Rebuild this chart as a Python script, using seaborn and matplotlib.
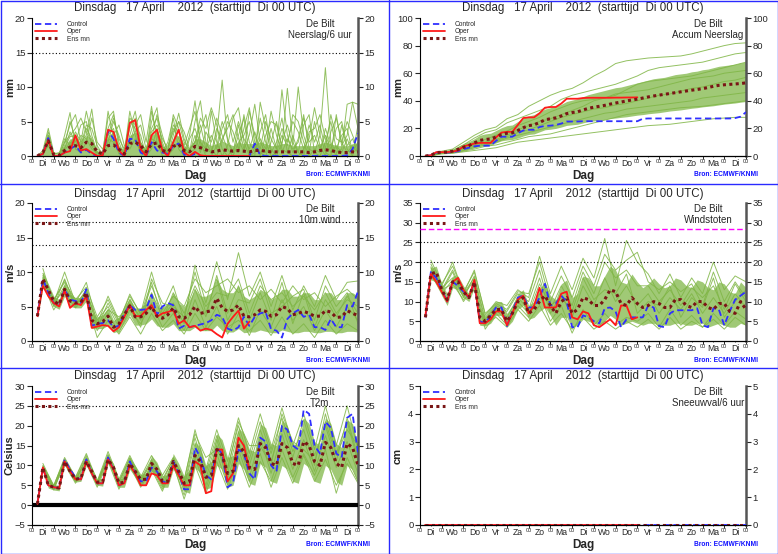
import matplotlib
matplotlib.use("Agg")
import matplotlib.pyplot as plt
from matplotlib.lines import Line2D
import seaborn as sns

# ---- time axes (hours after Di 17 April 00 UTC) ----
hours = list(range(6, 361, 6))          # ensemble / control, 6-hourly
oper_hours = list(range(6, 241, 6))     # operational run stops at day 10
member_hours = list(range(12, 361, 12)) # a selection of members, 12-hourly

day_names = ["Di", "Wo", "Do", "Vr", "Za", "Zo", "Ma", "Di", "Wo", "Do", "Vr", "Za", "Zo", "Ma", "Di"]
title = "Dinsdag   17 April    2012  (starttijd  Di 00 UTC)"

# ---- Neerslag/6 uur (mm) ----
precip_ctrl = [0, 0.3, 2.6, 0, 0, 0.5, 1.0, 1.5, 0.5, 0.9, 0.3, 0, 0.1, 3.6, 2.5, 0.5,
               0, 2.5, 2.4, 0.5, 0, 2.0, 0.8, 0.5, 0.3, 1.5, 1.8, 0.2, 0, 0.3, 0, 0,
               0, 0, 0, 0, 0, 0, 0, 0, 1.8, 0.1, 0, 0, 0, 0, 0, 0,
               0, 0, 0, 0, 0, 0, 0, 0, 0, 0.1, 1.0, 3.3]
precip_oper = [0, 0.3, 2.3, 0, 0, 0.5, 0.7, 3.0, 0.8, 1.0, 0.5, 0, 0.1, 3.8, 3.5, 0.8,
               0, 4.8, 5.2, 1.0, 0, 3.0, 3.8, 0.8, 0, 2.0, 3.8, 0.5, 0, 0.6, 0.1, 0,
               0, 0, 0, 0, 0, 0, 0, 0]
precip_mean = [0, 0.5, 2.2, 0.2, 0.1, 0.8, 1.3, 1.5, 1.2, 2.0, 1.8, 0.6, 0.3, 1.5, 1.6, 1.0,
               0.3, 1.8, 2.0, 1.5, 0.6, 1.7, 1.9, 0.8, 0.6, 1.4, 1.7, 0.8, 0.6, 1.4, 1.2, 0.9,
               0.6, 0.7, 0.9, 0.8, 0.7, 0.8, 0.7, 0.6, 0.8, 0.8, 0.7, 0.6, 0.6, 0.6, 0.6, 0.6,
               0.6, 0.6, 0.5, 0.6, 0.8, 0.9, 0.8, 0.6, 0.5, 0.5, 0.6, 0.6]
precip_hi = [0, 0.5, 3.0, 0.2, 0.2, 1.5, 2.5, 2.5, 2.0, 3.0, 2.5, 0.8, 0.5, 3.0, 3.5, 1.5,
             0.8, 3.0, 3.5, 2.0, 1.0, 3.0, 3.5, 1.5, 1.0, 2.5, 3.0, 1.5, 1.0, 2.5, 2.5, 2.0,
             1.5, 1.8, 2.2, 1.8, 1.5, 2.0, 1.8, 1.8, 1.8, 2.0, 1.8, 1.5, 1.5, 1.8, 1.8, 1.5,
             1.5, 1.5, 1.5, 1.5, 1.8, 2.0, 1.8, 1.5, 1.5, 1.5, 1.8, 1.8]
precip_members = [
    [0, 0.5, 3.5, 0.2, 0, 2.0, 4.5, 6.0, 2.0, 6.5, 3.0, 0.5, 0.5, 5.5, 6.5, 1.0,
     0.5, 4.0, 6.5, 2.0, 0.5, 5.0, 7.0, 1.0, 0.5, 6.0, 4.0, 1.0, 0.5, 5.0, 8.0, 2.0,
     0.5, 3.0, 11.0, 2.0, 0.5, 4.5, 1.0, 3.0, 7.5, 2.0, 0.5, 4.0, 1.0, 9.6, 3.0, 0.5,
     2.5, 6.0, 1.0, 0.5, 3.0, 12.8, 2.0, 0.5, 1.0, 7.5, 7.8, 4.0],
    [0, 0.3, 2.5, 0, 0, 1.0, 3.5, 2.0, 4.5, 5.0, 1.5, 0, 0.3, 4.0, 6.0, 2.0,
     0, 3.0, 5.5, 1.5, 0, 6.5, 3.0, 0.5, 2.0, 5.5, 1.0, 0, 2.5, 4.0, 1.5, 0.5,
     6.5, 2.0, 0, 1.5, 5.5, 7.0, 2.0, 0, 0.5, 3.5, 6.0, 1.0, 0, 2.0, 4.5, 1.5,
     10.0, 3.0, 0.5, 5.0, 1.5, 0, 3.5, 5.5, 2.0, 0.5, 1.5, 0.5],
    [0, 0.8, 4.0, 0.5, 0.2, 2.5, 1.5, 3.5, 2.0, 3.0, 6.8, 1.0, 0.5, 2.0, 5.0, 3.0,
     0.5, 6.5, 3.0, 0.5, 1.0, 4.0, 5.5, 2.0, 0, 3.0, 6.2, 2.5, 0.5, 1.0, 3.5, 6.0,
     1.0, 0, 2.5, 4.0, 6.0, 2.5, 0.5, 6.5, 3.0, 0.5, 0, 2.0, 5.0, 1.0, 0.5, 3.0,
     0.5, 4.5, 6.0, 0.5, 0, 2.0, 5.0, 1.0, 3.0, 4.0, 0.5, 2.0],
    [0, 0.2, 2.0, 0, 0, 1.5, 5.0, 2.5, 1.0, 4.0, 2.5, 0.3, 0.2, 6.5, 2.5, 0.3,
     0.2, 5.5, 4.5, 3.0, 0, 2.5, 6.0, 3.0, 0.5, 4.0, 2.5, 0.5, 3.0, 8.0, 2.0, 0,
     0, 1.5, 5.0, 2.5, 0.5, 3.0, 5.5, 0, 0, 7.8, 4.0, 0.5, 2.0, 5.5, 0.5, 0,
     0, 1.0, 2.5, 7.0, 3.0, 0.5, 0, 6.0, 1.5, 3.0, 7.8, 7.5],
    [0, 0.5, 3.0, 0.3, 0.3, 3.0, 6.3, 1.0, 0.5, 2.0, 5.5, 2.0, 1.0, 3.0, 4.0, 0.5,
     0, 2.0, 4.5, 6.0, 2.0, 7.2, 2.0, 0, 0, 2.0, 5.0, 3.5, 1.0, 2.0, 5.5, 4.0,
     7.0, 4.5, 1.0, 0, 1.0, 0.5, 4.0, 7.0, 2.0, 0, 3.0, 5.0, 4.5, 1.5, 9.8, 2.0,
     0.5, 0, 3.5, 4.0, 6.0, 2.5, 0.5, 1.5, 0.5, 2.5, 0.5, 1.0],
    [0, 0.3, 1.5, 0, 0, 0.8, 2.0, 1.5, 3.0, 2.5, 1.0, 0.5, 0, 1.5, 3.0, 4.5,
     1.5, 1.0, 2.5, 0.5, 0, 1.0, 4.0, 1.5, 0, 1.0, 2.0, 0.5, 0.5, 3.0, 0.5, 3.5,
     2.0, 5.5, 3.0, 1.0, 0, 2.0, 3.0, 5.0, 1.0, 5.5, 2.0, 0, 0.5, 3.0, 1.5, 6.0,
     5.0, 2.0, 0, 1.0, 0.5, 4.0, 1.5, 0, 4.5, 1.0, 0, 4.5],
    [0, 0.4, 3.0, 0.1, 0.1, 2.0, 3.0, 4.0, 5.5, 3.5, 2.0, 0.5, 0.5, 3.0, 5.5, 2.5,
     1.0, 5.0, 4.0, 0.5, 0.5, 3.5, 4.5, 2.5, 1.0, 4.5, 3.5, 1.5, 4.0, 6.5, 2.0, 1.0,
     3.0, 1.0, 4.0, 6.0, 2.0, 5.0, 2.5, 1.0, 3.5, 1.0, 5.0, 2.5, 1.0, 4.0, 2.0, 5.0,
     3.5, 1.0, 4.5, 2.0, 4.5, 1.0, 6.0, 2.5, 2.0, 5.0, 3.0, 1.0],
    [0, 0.2, 1.8, 0.3, 0.5, 1.2, 2.8, 3.0, 1.5, 4.5, 4.0, 1.5, 0.2, 2.5, 2.0, 1.0,
     0.5, 2.0, 3.5, 4.5, 1.0, 2.5, 2.0, 0.5, 1.5, 3.5, 5.0, 2.0, 1.0, 2.0, 4.5, 1.0,
     0.5, 4.0, 2.0, 5.0, 3.5, 1.0, 6.0, 2.0, 0.5, 2.5, 1.0, 6.5, 3.0, 0.5, 2.5, 1.0,
     2.0, 5.5, 2.0, 3.0, 1.0, 3.0, 1.0, 4.0, 5.0, 1.5, 2.5, 0.5],
]

# ---- Accum Neerslag (mm) ----
accum_ctrl = [0, 0.5, 2.5, 2.5, 2.5, 2.8, 3.5, 5.0, 6.0, 7.0, 7.5, 7.5, 7.5, 11.0, 14.0, 14.0,
              14.0, 16.5, 18.5, 19.0, 19.0, 21.0, 21.8, 22.0, 22.5, 23.5, 25.0, 25.0, 25.0, 25.2, 25.2, 25.2,
              25.2, 25.2, 25.2, 25.2, 25.2, 25.2, 25.2, 25.2, 27.0, 27.2, 27.2, 27.2, 27.2, 27.2, 27.2, 27.2,
              27.2, 27.2, 27.2, 27.2, 27.2, 27.2, 27.2, 27.2, 27.2, 27.5, 28.5, 31.8]
accum_oper = [0, 0.5, 2.8, 2.8, 2.8, 3.3, 4.0, 7.0, 8.0, 9.0, 9.5, 9.5, 9.5, 13.5, 17.0, 17.5,
              17.5, 22.5, 27.5, 28.0, 28.0, 31.0, 35.0, 35.5, 35.5, 38.0, 41.5, 41.5, 41.5, 42.0, 42.2, 42.2,
              42.2, 42.2, 42.2, 42.3, 42.3, 42.4, 42.4, 42.5]
accum_mean = [0, 0.5, 2.5, 2.7, 2.8, 3.5, 4.8, 6.3, 7.5, 9.5, 11.3, 12.0, 12.3, 13.8, 15.5, 16.5,
              16.8, 18.5, 20.5, 22.0, 22.6, 24.3, 26.2, 27.0, 27.6, 29.0, 30.7, 31.5, 32.0, 33.4, 34.5, 35.4,
              36.0, 36.7, 37.6, 38.4, 39.1, 39.9, 40.6, 41.2, 42.0, 42.8, 43.5, 44.1, 44.7, 45.3, 45.9, 46.5,
              47.1, 47.7, 48.2, 48.8, 49.6, 50.5, 51.2, 51.6, 51.9, 52.2, 52.5, 53.0]
accum_lo = [0, 0.3, 1.5, 1.8, 1.8, 2.2, 3.0, 4.0, 5.0, 6.0, 7.0, 7.4, 7.8, 9.5, 11.0, 11.6,
            12.0, 13.0, 14.5, 15.6, 16.0, 17.5, 19.0, 19.4, 20.0, 21.0, 22.2, 22.6, 23.0, 24.0, 25.0, 25.4,
            26.0, 26.5, 27.2, 27.5, 28.0, 28.4, 29.0, 29.6, 30.0, 30.6, 31.0, 31.4, 32.0, 32.6, 33.0, 33.4,
            34.0, 34.6, 35.0, 35.6, 36.0, 36.4, 37.0, 37.6, 38.0, 38.4, 39.0, 39.5]
accum_hi = [0, 0.8, 3.5, 3.8, 4.0, 5.0, 7.0, 9.0, 10.5, 12.5, 15.0, 16.0, 16.5, 18.5, 20.5, 22.0,
            22.5, 25.0, 27.5, 29.0, 30.0, 32.0, 34.0, 35.0, 36.0, 37.5, 39.5, 40.5, 41.5, 43.0, 44.5, 45.5,
            46.5, 47.5, 48.5, 49.5, 50.0, 51.0, 52.0, 53.0, 54.0, 55.0, 56.0, 56.5, 57.0, 58.0, 59.0, 59.5,
            60.0, 61.0, 61.5, 62.5, 63.0, 64.0, 65.0, 65.5, 66.0, 66.5, 67.5, 68.0]
accum_members = [
    [0.5, 3.5, 5, 10, 15, 19, 21, 27, 30, 36, 40, 44, 47, 49, 53, 58, 62, 67, 69, 70,
     71, 71.5, 72, 72.5, 74, 76, 78, 80, 81.5, 82],
    [0.5, 3, 4, 8, 13, 17, 19, 24, 27, 30, 33, 36, 41, 44, 46, 48, 50, 52, 55, 58,
     62, 64, 65, 66, 67, 68, 70, 72, 74, 75],
    [0.5, 2.5, 3.5, 7, 10, 12, 15, 18, 22, 25, 28, 32, 35, 38, 40, 41, 42, 44, 48, 52,
     54, 55, 56, 57, 58, 60, 62, 64, 66, 68],
    [0.3, 2, 3, 6, 8, 10, 12, 15, 19, 22, 25, 27, 30, 33, 36, 40, 42, 45, 46, 47,
     48, 50, 52, 54, 56, 57, 58, 60, 61, 62],
    [0.5, 2.5, 3, 5, 7, 9, 11, 14, 17, 19, 22, 25, 28, 30, 32, 34, 35, 37, 38, 40,
     42, 44, 45, 47, 49, 50, 52, 54, 55, 57],
    [0.3, 2, 2.5, 4, 6, 8, 10, 13, 15, 17, 19, 21, 23, 25, 27, 29, 31, 32, 34, 35,
     36, 37, 38, 39, 40, 42, 43, 44, 45, 46],
    [0.2, 2, 2.5, 3.5, 5, 7, 8, 10, 12, 14, 15, 16, 18, 20, 22, 24, 26, 28, 30, 31,
     32, 33, 34, 35, 35.5, 36, 37, 38, 39, 40],
    [0.2, 1.5, 2, 3, 4, 5, 6, 8, 10, 11, 12, 13, 14, 15, 16, 17, 18, 19, 20, 21,
     22, 22.5, 23, 24, 25, 26, 27, 27.5, 28, 28],
]

# ---- 10m wind (m/s) ----
wind_ctrl = [3.6, 9.0, 7.0, 5.5, 5.2, 7.5, 6.0, 5.8, 5.5, 7.5, 2.2, 2.5, 2.6, 3.0, 2.0, 2.2,
             4.0, 5.2, 4.5, 4.5, 4.6, 6.7, 3.8, 5.0, 5.5, 5.2, 1.8, 2.2, 2.0, 2.2, 2.4, 2.6,
             3.0, 3.8, 3.5, 1.8, 1.5, 2.0, 3.5, 2.2, 3.5, 4.0, 4.2, 1.7, 1.5, 0.5, 3.2, 4.0,
             4.5, 3.5, 3.8, 2.0, 2.0, 1.6, 3.2, 2.0, 2.0, 5.2, 5.0, 7.2]
wind_oper = [3.6, 8.0, 6.5, 5.5, 5.0, 7.3, 4.8, 5.5, 5.2, 6.5, 1.9, 2.1, 2.3, 2.2, 1.4, 2.0,
             3.5, 5.2, 3.6, 3.6, 4.5, 5.2, 3.5, 4.0, 4.2, 4.5, 2.5, 3.0, 2.0, 2.2, 1.5, 1.8,
             1.6, 1.0, 0.5, 2.5, 3.5, 4.4, 1.8, 2.8]
wind_mean = [3.6, 9.0, 7.4, 5.8, 5.3, 7.5, 5.8, 5.5, 5.6, 7.0, 3.0, 2.5, 2.8, 3.6, 2.0, 2.5,
             3.8, 5.1, 3.5, 3.5, 4.0, 5.0, 3.6, 3.3, 3.8, 4.8, 3.5, 3.3, 3.8, 5.0, 4.0, 4.2,
             4.4, 6.2, 4.8, 4.3, 4.5, 5.2, 3.6, 3.5, 3.8, 4.5, 4.3, 3.6, 3.8, 5.0, 4.7, 3.8,
             4.0, 4.3, 4.0, 3.6, 3.6, 4.4, 4.2, 3.4, 3.5, 4.4, 4.0, 3.7]
wind_lo = [3.3, 7.8, 6.3, 5.0, 4.6, 6.5, 5.0, 4.8, 4.8, 5.8, 1.8, 1.8, 1.8, 2.3, 1.2, 1.5,
           2.6, 3.8, 2.3, 2.3, 2.5, 3.2, 2.2, 2.0, 2.0, 2.5, 1.5, 1.5, 1.5, 2.0, 1.5, 1.5,
           1.5, 2.3, 1.5, 1.3, 1.3, 1.8, 1.2, 1.3, 1.3, 1.6, 1.4, 1.2, 1.2, 1.6, 1.4, 1.2,
           1.2, 1.4, 1.4, 1.2, 1.2, 1.4, 1.4, 1.2, 1.2, 1.4, 1.4, 1.3]
wind_hi = [4.0, 10.0, 8.3, 6.5, 6.0, 8.5, 6.8, 6.3, 6.3, 7.8, 4.0, 3.5, 3.8, 4.8, 3.0, 3.5,
           5.0, 6.2, 4.8, 4.8, 5.5, 7.0, 5.0, 4.8, 5.5, 7.0, 5.5, 5.0, 6.0, 7.5, 6.5, 6.5,
           7.0, 9.0, 7.5, 7.0, 7.0, 8.0, 6.5, 6.0, 6.5, 7.5, 7.0, 6.0, 6.5, 7.5, 7.5, 6.5,
           6.5, 7.0, 7.0, 6.0, 6.0, 7.0, 7.0, 6.0, 6.0, 7.0, 7.0, 6.5]
wind_members = [
    [10.5, 5.5, 10.0, 5.5, 8.5, 2.5, 6.5, 3.0, 6.5, 4.0, 10.0, 4.5, 8.0, 3.0, 11.0,
     5.5, 11.5, 6.0, 12.8, 6.5, 10.0, 5.0, 9.5, 4.5, 8.0, 5.0, 9.5, 6.0, 8.5, 8.7],
    [9.5, 5.0, 9.0, 5.0, 7.5, 2.0, 5.5, 2.5, 5.5, 3.5, 8.0, 4.0, 6.5, 5.0, 9.0,
     7.0, 8.0, 9.0, 7.0, 8.0, 6.0, 7.5, 5.5, 8.0, 6.0, 7.0, 5.0, 6.5, 7.5, 6.0],
    [8.5, 4.5, 7.0, 4.8, 6.5, 1.5, 4.0, 1.2, 4.5, 2.5, 5.5, 2.0, 4.0, 1.5, 6.0,
     2.0, 5.0, 1.0, 4.0, 0.8, 4.5, 2.0, 6.0, 3.0, 5.0, 1.5, 4.5, 2.0, 5.0, 3.0],
    [9.0, 5.2, 8.0, 5.2, 7.0, 3.0, 5.0, 2.0, 6.0, 3.0, 7.0, 3.5, 5.5, 2.5, 7.5,
     3.5, 9.5, 4.0, 8.0, 3.0, 7.0, 3.0, 8.5, 2.5, 7.0, 2.0, 6.0, 3.5, 6.5, 4.0],
    [8.0, 5.5, 7.5, 5.6, 6.0, 0.5, 3.0, 1.0, 3.5, 1.0, 4.0, 1.5, 3.0, 1.0, 4.0,
     1.5, 3.5, 2.0, 3.0, 1.5, 3.0, 0.8, 3.5, 1.0, 2.5, 0.5, 3.0, 1.0, 2.5, 1.5],
    [9.8, 6.0, 8.5, 6.0, 7.8, 3.5, 6.0, 2.8, 6.8, 3.8, 8.5, 3.0, 7.0, 4.0, 8.0,
     5.0, 7.0, 6.5, 9.0, 4.0, 8.0, 6.0, 7.0, 5.0, 6.5, 4.5, 7.0, 4.0, 6.0, 5.0],
    [9.2, 5.8, 8.8, 5.4, 7.2, 2.2, 4.5, 3.5, 5.0, 2.0, 9.0, 5.5, 5.0, 3.5, 10.0,
     4.0, 9.0, 3.0, 6.0, 5.5, 9.0, 4.0, 5.0, 6.5, 7.5, 3.0, 8.0, 5.0, 7.0, 2.5],
]

# ---- Windstoten (m/s) ----
gust_ctrl = [6.0, 17.5, 16.0, 13.0, 10.0, 15.0, 14.0, 12.5, 11.0, 15.0, 5.0, 4.5, 6.5, 8.5, 8.5, 3.8,
             7.5, 11.0, 11.5, 8.5, 8.5, 11.0, 14.5, 9.0, 9.5, 11.5, 10.0, 3.5, 3.5, 6.5, 6.0, 5.0,
             4.5, 8.3, 8.5, 7.5, 3.5, 5.5, 6.0, 6.0, 6.0, 9.0, 8.5, 3.8, 3.5, 7.0, 7.8, 7.8,
             7.8, 7.8, 8.3, 4.0, 3.5, 8.3, 8.0, 4.0, 7.5, 10.5, 11.5, 12.5]
gust_oper = [6.5, 17.0, 15.0, 12.5, 10.0, 15.0, 16.0, 13.0, 11.0, 15.5, 4.5, 4.5, 5.5, 7.5, 7.5, 4.0,
             7.0, 10.5, 11.5, 7.0, 9.0, 13.5, 8.5, 8.5, 8.5, 12.0, 12.5, 6.0, 5.5, 7.5, 7.0, 4.0,
             3.5, 4.5, 5.5, 4.0, 9.0, 9.0, 5.5, 6.0]
gust_mean = [6.0, 17.0, 17.5, 13.0, 10.5, 15.0, 15.0, 12.5, 11.0, 15.0, 6.0, 5.0, 6.5, 8.0, 8.0, 5.0,
             7.0, 10.0, 11.0, 7.0, 8.0, 10.0, 11.5, 9.0, 7.0, 10.0, 11.0, 7.0, 8.0, 11.0, 10.5, 9.0,
             9.0, 10.5, 13.0, 12.5, 9.5, 9.0, 11.0, 9.5, 8.5, 9.0, 10.0, 9.5, 8.5, 8.5, 10.5, 10.5,
             9.0, 8.5, 10.0, 10.0, 8.5, 8.0, 9.5, 9.5, 7.5, 7.0, 10.0, 8.0]
gust_lo = [5.5, 15.5, 15.0, 11.5, 9.0, 13.5, 13.0, 11.0, 10.0, 13.5, 4.0, 3.8, 4.5, 6.5, 6.5, 3.5,
           5.0, 8.0, 9.0, 5.5, 6.0, 7.5, 8.5, 6.5, 4.0, 6.0, 6.0, 3.5, 4.0, 5.5, 5.0, 4.5,
           4.0, 5.0, 6.5, 5.5, 4.0, 4.5, 5.0, 4.5, 4.0, 4.5, 4.5, 4.0, 4.0, 4.0, 4.5, 4.5,
           4.0, 4.0, 4.5, 4.5, 3.5, 4.0, 4.5, 4.0, 3.5, 3.5, 4.5, 4.0]
gust_hi = [6.5, 18.5, 19.0, 14.5, 12.0, 16.5, 16.5, 14.0, 12.0, 16.5, 8.0, 6.5, 8.5, 10.0, 10.0, 7.0,
           9.0, 12.0, 13.0, 9.0, 10.0, 13.0, 15.0, 11.5, 10.5, 14.5, 15.5, 11.0, 12.0, 16.5, 16.0, 14.0,
           14.0, 16.5, 19.0, 18.0, 15.0, 14.5, 17.0, 15.0, 13.5, 14.5, 16.0, 14.5, 13.5, 14.0, 16.0, 15.5,
           14.0, 13.5, 15.5, 15.0, 13.5, 13.0, 15.0, 14.5, 12.5, 12.0, 15.0, 13.5]
gust_members = [
    [19.5, 14.0, 20.0, 12.0, 18.0, 6.5, 10.0, 9.0, 13.0, 11.0, 21.5, 12.0, 19.0, 13.0, 21.0,
     16.0, 26.0, 14.0, 25.5, 20.0, 17.0, 12.0, 17.0, 11.0, 16.0, 12.0, 20.0, 13.0, 16.5, 15.0],
    [18.0, 12.5, 17.5, 11.0, 16.5, 5.5, 9.0, 7.5, 12.0, 10.0, 18.0, 8.0, 14.0, 9.0, 17.5,
     12.0, 20.0, 16.0, 18.0, 14.0, 14.0, 10.0, 13.0, 9.0, 13.5, 11.0, 14.0, 8.0, 14.5, 10.0],
    [17.0, 12.0, 15.5, 10.0, 14.0, 3.0, 7.0, 4.0, 9.0, 6.0, 12.0, 5.0, 9.0, 2.0, 8.0,
     4.0, 7.0, 4.0, 6.0, 5.0, 7.0, 3.5, 8.0, 4.0, 6.5, 3.5, 7.0, 4.0, 7.5, 5.5],
    [18.5, 13.5, 16.0, 11.5, 15.5, 4.0, 8.5, 6.0, 11.0, 8.0, 16.0, 7.0, 12.0, 6.0, 14.0,
     9.0, 16.0, 10.0, 14.0, 9.0, 12.0, 7.0, 11.0, 8.0, 12.0, 7.0, 11.0, 7.0, 12.0, 8.5],
    [16.5, 13.0, 14.5, 10.5, 13.0, 4.5, 6.0, 3.5, 8.0, 5.0, 9.0, 4.0, 7.0, 3.0, 6.0,
     3.0, 5.0, 3.0, 5.0, 3.5, 5.5, 3.0, 6.0, 3.0, 5.0, 3.5, 5.5, 3.0, 6.0, 4.0],
    [20.5, 14.5, 19.0, 12.5, 17.5, 7.0, 9.5, 8.0, 12.5, 12.0, 20.0, 10.0, 16.5, 11.0, 19.0,
     14.0, 22.0, 18.0, 20.5, 22.5, 15.0, 13.0, 15.0, 12.5, 14.5, 9.0, 17.5, 10.0, 15.0, 11.0],
    [18.8, 13.0, 18.0, 12.0, 16.0, 5.0, 8.0, 5.0, 10.0, 7.0, 14.5, 9.0, 11.0, 7.5, 16.0,
     10.5, 13.0, 12.0, 17.0, 7.0, 10.0, 9.0, 14.0, 6.0, 11.0, 8.5, 16.0, 6.0, 10.0, 13.0],
]

# ---- T2m (Celsius) ----
t2m_ctrl = [0.3, 9.5, 5.0, 4.5, 4.3, 11.5, 9.0, 7.0, 6.5, 11.5, 8.0, 5.5, 5.5, 12.0, 9.0, 5.0,
            5.5, 11.0, 8.0, 6.0, 6.0, 9.5, 8.5, 6.0, 5.5, 11.0, 8.0, 4.0, 4.0, 14.5, 12.0, 7.5,
            6.5, 14.5, 13.0, 4.5, 5.5, 14.0, 13.0, 8.0, 6.5, 17.0, 16.0, 10.0, 8.5, 20.0, 19.0, 15.0,
            14.0, 24.0, 23.0, 15.0, 13.0, 21.0, 19.5, 13.0, 12.0, 22.0, 23.0, 13.0]
t2m_oper = [0.3, 9.5, 5.0, 4.5, 4.3, 11.0, 8.5, 6.5, 6.5, 11.0, 8.0, 5.5, 5.5, 11.5, 9.0, 5.0,
            5.5, 10.0, 8.0, 5.0, 5.0, 8.0, 7.5, 5.5, 5.5, 10.0, 7.5, 5.0, 5.0, 11.0, 10.0, 3.0,
            3.5, 14.0, 14.0, 6.0, 8.0, 17.0, 15.0, 9.0]
t2m_mean = [0.3, 9.5, 5.0, 4.5, 4.3, 11.0, 8.5, 6.5, 6.8, 11.0, 8.5, 5.8, 5.8, 11.5, 9.5, 5.5,
            5.8, 10.5, 8.5, 6.5, 6.5, 10.5, 9.0, 6.0, 6.0, 11.0, 8.5, 5.5, 6.0, 12.5, 11.0, 7.0,
            7.5, 14.0, 12.5, 8.0, 8.5, 15.0, 13.5, 9.5, 9.0, 15.5, 14.5, 10.5, 10.0, 15.5, 14.5, 10.5,
            10.0, 16.0, 15.0, 11.0, 10.0, 15.8, 14.5, 10.5, 9.5, 15.5, 14.5, 10.0]
t2m_lo = [0.0, 8.8, 4.3, 3.8, 3.6, 10.2, 7.5, 5.8, 6.0, 10.0, 7.5, 5.0, 4.8, 10.5, 8.3, 4.5,
          4.5, 9.0, 7.0, 5.0, 5.0, 8.5, 7.3, 4.5, 4.5, 9.0, 6.8, 3.5, 3.0, 9.5, 8.0, 4.0,
          4.5, 10.0, 9.0, 4.5, 5.0, 10.5, 9.0, 5.5, 5.0, 10.5, 9.5, 6.0, 5.5, 10.0, 9.0, 6.0,
          5.5, 10.5, 9.5, 6.0, 5.5, 10.0, 9.0, 6.0, 5.0, 10.0, 9.0, 5.5]
t2m_hi = [0.5, 10.3, 5.8, 5.2, 5.0, 11.8, 9.5, 7.3, 7.6, 12.0, 9.5, 6.6, 6.8, 12.5, 10.5, 6.5,
          7.0, 12.0, 10.0, 7.8, 8.0, 12.5, 10.8, 7.5, 7.5, 13.0, 10.5, 7.3, 9.0, 16.0, 14.5, 10.0,
          11.0, 18.0, 16.5, 12.0, 12.5, 19.5, 18.0, 14.0, 13.5, 20.5, 19.5, 15.5, 15.0, 21.5, 20.0, 15.5,
          15.0, 22.0, 20.5, 16.0, 15.0, 22.0, 20.5, 15.5, 14.5, 21.5, 20.5, 15.0]
t2m_members = [
    [10.5, 4.8, 12.0, 7.0, 13.0, 6.0, 13.5, 6.5, 12.5, 7.0, 12.5, 7.5, 12.0, 6.0, 19.0,
     9.0, 19.0, 11.0, 22.0, 13.0, 23.0, 14.0, 24.5, 15.0, 23.0, 14.0, 25.0, 15.0, 25.0, 14.0],
    [9.0, 4.0, 10.5, 5.5, 10.5, 4.5, 11.0, 4.0, 10.0, 4.5, 9.0, 3.5, 10.0, 2.5, 12.0,
     4.0, 13.0, 5.0, 14.0, 6.0, 13.0, 4.5, 12.0, 5.5, 12.5, 6.0, 11.5, 5.0, 10.5, 5.5],
    [9.8, 4.5, 11.2, 6.5, 11.8, 5.5, 12.2, 5.5, 11.5, 6.0, 10.8, 5.0, 11.0, 4.5, 15.5,
     6.5, 16.5, 8.0, 18.5, 10.0, 19.0, 11.0, 20.0, 12.0, 21.5, 12.5, 20.0, 11.0, 22.0, 12.0],
    [9.2, 3.8, 10.8, 6.0, 11.0, 5.0, 11.5, 4.5, 10.5, 5.0, 9.5, 4.0, 10.5, 1.5, 10.0,
     3.0, 11.0, 4.0, 12.0, 4.5, 11.0, 6.0, 14.0, 7.0, 13.0, 7.5, 14.0, 3.0, 12.0, 6.0],
    [10.0, 5.0, 11.5, 6.8, 12.5, 5.8, 12.8, 6.0, 12.0, 6.5, 11.5, 6.5, 11.5, 5.0, 17.0,
     8.0, 17.5, 9.5, 20.0, 11.5, 21.0, 13.0, 22.0, 13.5, 19.0, 10.0, 23.0, 13.0, 21.0, 11.0],
    [9.5, 4.2, 11.0, 6.2, 11.5, 5.2, 12.0, 5.0, 11.0, 5.5, 10.0, 4.5, 10.8, 3.5, 13.5,
     5.0, 15.0, 6.5, 16.0, 7.0, 17.0, 8.0, 18.0, 9.0, 16.5, 8.5, 17.5, 9.5, 16.0, 8.0],
    [9.6, 4.6, 11.4, 6.0, 12.0, 5.5, 12.5, 5.8, 11.8, 6.2, 11.0, 5.8, 11.8, 6.5, 18.0,
     12.0, 14.0, 9.0, 21.0, 15.0, 15.0, 10.0, 23.0, 16.0, 14.0, 11.0, 21.0, 12.5, 19.0, 15.0],
]

# ---- Sneeuwval/6 uur (cm): nothing forecast ----
snow_ctrl = [0.0] * 60
snow_oper = [0.0] * 40
snow_mean = [0.0] * 60

# ---- styling ----
sns.set_style("white")
plt.rcParams["font.family"] = ["Liberation Sans", "DejaVu Sans"]

BAND = "#8fc05e"
MEMBER = "#80b646"
CTRL = "#2f2fff"
OPER = "#ff1a1a"
MEAN = "#7a1616"
FRAME = "#2a2aff"

fig = plt.figure(figsize=(7.78, 5.54), dpi=100)
W, H = 778, 554


def add_axes(left_px, top_px, bottom_px):
    return fig.add_axes([left_px / W, 1 - bottom_px / H, 326 / W, (bottom_px - top_px) / H])


def panel(ax, label, unit, ctrl, oper, mean, lo, hi, members, member_x, ylim, ystep, refs):
    if hi is not None:
        ax.fill_between(hours, 0 if lo is None else lo, hi, color=BAND, lw=0, alpha=0.85, zorder=1)
    for m in members:
        sns.lineplot(x=member_x, y=m, ax=ax, color=MEMBER, linewidth=0.7, alpha=0.85, zorder=2)
    for y, kind in refs:
        if kind == "dot":
            ax.axhline(y, color="black", lw=0.8, ls=(0, (1, 2)), zorder=3)
        elif kind == "magenta":
            ax.axhline(y, color="#ff00ff", lw=1.0, ls=(0, (4, 2)), zorder=3)
        else:
            ax.axhline(y, color="black", lw=3.0, zorder=3)
    sns.lineplot(x=hours, y=ctrl, ax=ax, color=CTRL, linewidth=1.3, linestyle=(0, (3.5, 2)), zorder=4)
    sns.lineplot(x=oper_hours, y=oper, ax=ax, color=OPER, linewidth=1.3, zorder=5)
    sns.lineplot(x=hours, y=mean, ax=ax, color=MEAN, linewidth=2.2, linestyle=(0, (1, 1.1)), zorder=6)

    ax.set_xlim(0, 360)
    ax.set_ylim(*ylim)
    ax.set_yticks(range(ylim[0], ylim[1] + 1, ystep))
    ax.set_xticks(range(0, 361, 24))
    ax.set_xticklabels(["00"] * 16, fontsize=4)
    ax.set_xticks(range(12, 360, 24), minor=True)
    ax.set_xticklabels(day_names, minor=True, fontsize=6.2)
    ax.tick_params(axis="x", which="major", length=2.0, width=0.7, pad=0.3, direction="out", bottom=True)
    ax.tick_params(axis="x", which="minor", length=1.0, width=0.6, pad=1.3, direction="out", bottom=True)
    ax.tick_params(axis="y", which="major", left=True, right=True, labelleft=True, labelright=True,
                   length=3.5, width=0.8, pad=1.2, labelsize=6.8, direction="out")
    ax.set_xlabel("")
    ax.set_ylabel("")
    ax.spines["top"].set_visible(False)
    ax.spines["left"].set_color("black")
    ax.spines["left"].set_linewidth(0.8)
    ax.spines["bottom"].set_color("black")
    ax.spines["bottom"].set_linewidth(0.9)
    ax.spines["right"].set_color("#555555")
    ax.spines["right"].set_linewidth(1.8)

    h = ax.get_position().height * H
    ax.text(0.5, 1 + 9.5 / h, title, transform=ax.transAxes, ha="center", va="center", fontsize=8.3)
    ax.text(0.5, -20 / h, "Dag", transform=ax.transAxes, ha="center", va="center",
            fontsize=8.5, fontweight="bold")
    ax.text(1 + 12 / 326, -19 / h, "Bron: ECMWF/KNMI", transform=ax.transAxes, ha="right",
            va="center", fontsize=4.8, fontweight="bold", color="#1010ff")
    ax.text(-22 / 326, 0.5, unit, transform=ax.transAxes, rotation=90, ha="center", va="center",
            fontsize=8, fontweight="bold")
    ax.text(0.883, 0.955, "De Bilt", transform=ax.transAxes, ha="center", va="center", fontsize=7)
    ax.text(0.883, 0.875, label, transform=ax.transAxes, ha="center", va="center", fontsize=7)

    handles = [
        Line2D([], [], color=CTRL, lw=1.3, ls=(0, (3.5, 2))),
        Line2D([], [], color=OPER, lw=1.3),
        Line2D([], [], color=MEAN, lw=2.2, ls=(0, (1, 1.1))),
    ]
    ax.legend(handles, ["Control", "Oper", "Ens mn"], loc="upper left",
              bbox_to_anchor=(3 / 326, 1 - 3 / h), borderaxespad=0, borderpad=0, frameon=False,
              fontsize=4.8, handlelength=3.3, handletextpad=1.5, labelspacing=0.05)


ax1 = add_axes(32, 18, 156)
panel(ax1, "Neerslag/6 uur", "mm", precip_ctrl, precip_oper, precip_mean, None, precip_hi,
      precip_members, hours, (0, 20), 5, [(15, "dot")])
ax2 = add_axes(420, 18, 156)
panel(ax2, "Accum Neerslag", "mm", accum_ctrl, accum_oper, accum_mean, accum_lo, accum_hi,
      accum_members, member_hours, (0, 100), 20, [])
ax3 = add_axes(32, 203, 341)
panel(ax3, "10m wind", "m/s", wind_ctrl, wind_oper, wind_mean, wind_lo, wind_hi,
      wind_members, member_hours, (0, 20), 5, [(10.8, "dot"), (13.9, "dot"), (17.2, "dot")])
ax4 = add_axes(420, 203, 341)
panel(ax4, "Windstoten", "m/s", gust_ctrl, gust_oper, gust_mean, gust_lo, gust_hi,
      gust_members, member_hours, (0, 35), 5, [(20, "dot"), (25, "dot"), (28.5, "magenta")])
ax5 = add_axes(32, 386, 525)
panel(ax5, "T2m", "Celsius", t2m_ctrl, t2m_oper, t2m_mean, t2m_lo, t2m_hi,
      t2m_members, member_hours, (-5, 30), 5, [(25, "dot"), (0, "thick")])
ax6 = add_axes(420, 386, 525)
panel(ax6, "Sneeuwval/6 uur", "cm", snow_ctrl, snow_oper, snow_mean, None, None,
      [], member_hours, (0, 5), 1, [])

# blue frame around and between the six panels
for (x0, y0, x1, y1) in [(0.5, 0.5, 777.5, 0.5), (0.5, 553.5, 777.5, 553.5),
                         (0.5, 0.5, 0.5, 553.5), (777.5, 0.5, 777.5, 553.5),
                         (389, 0, 389, 554), (0, 184, 778, 184), (0, 368, 778, 368)]:
    fig.add_artist(Line2D([x0 / W, x1 / W], [1 - y0 / H, 1 - y1 / H], transform=fig.transFigure,
                          color=FRAME, lw=1.0))

fig.savefig("out.png", dpi=100)
